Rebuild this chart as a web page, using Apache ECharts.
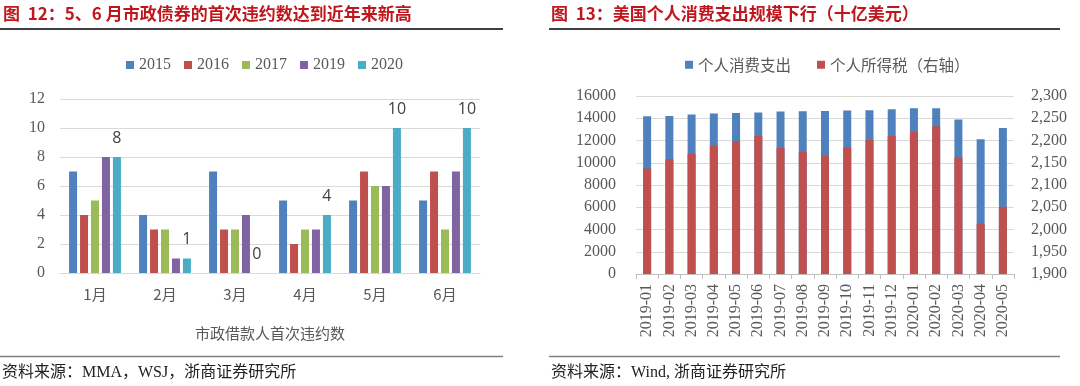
<!DOCTYPE html>
<html><head><meta charset="utf-8">
<script src="https://cdn.jsdelivr.net/npm/echarts@6/dist/echarts.min.js"></script>
<style>html,body{margin:0;padding:0;background:#fff}#c{width:1080px;height:386px}</style>
</head><body><div id="c"></div>
<script>
// Left chart data
const months = ['1月','2月','3月','4月','5月','6月'];
const years = ['2015','2016','2017','2019','2020'];
const d2015 = [7,4,7,5,5,5];
const d2016 = [4,3,3,2,7,7];
const d2017 = [5,3,3,3,6,3];
const d2019 = [8,1,4,3,6,7];
const d2020 = [8,1,0,4,10,10];

// Right chart data
const periods = ['2019-01','2019-02','2019-03','2019-04','2019-05','2019-06','2019-07','2019-08','2019-09','2019-10','2019-11','2019-12','2020-01','2020-02','2020-03','2020-04','2020-05'];
const pce = [14180,14200,14330,14420,14480,14510,14600,14630,14660,14690,14720,14810,14900,14900,13880,12120,13130];
const tax = [2137,2158,2170,2188,2199,2210,2183,2174,2165,2184,2201,2210,2219,2232,2162,2013,2051];

const colors5 = ['#4F81BD','#C0504D','#9BBB59','#8064A2','#4BACC6'];
const serif = '"Liberation Serif", "Noto Sans CJK SC", serif';
const cjk = '"Noto Sans CJK SC", sans-serif';
const grey = '#595959';
const yearData = [d2015,d2016,d2017,d2019,d2020];

const chart = echarts.init(document.getElementById('c'), null, {renderer:'canvas'});

const leftSeries = years.map((y,i)=>({
  name: y, type:'bar', xAxisIndex:0, yAxisIndex:0,
  data: yearData[i], barWidth:8, barGap:'37%',
  itemStyle:{color:colors5[i]},
  label: i===4 ? {show:true, position:'top', distance:11, color:'#404040', fontSize:16, fontFamily:'"Open Sans", sans-serif'} : {show:false}
}));

const option = {
  animation:false,
  color: colors5,
  grid:[
    {left:60, top:99, width:420, height:174},
    {left:636, top:96, width:378, height:178}
  ],
  legend:[
    {data:years, left:121, top:52, icon:'rect', itemWidth:8, itemHeight:8, itemGap:13,
     textStyle:{fontFamily:serif, fontSize:16, color:grey}},
    {data:['个人消费支出','个人所得税（右轴）'], left:680, top:52, icon:'rect', itemWidth:8, itemHeight:8, itemGap:26,
     textStyle:{fontFamily:cjk, fontSize:15.5, color:grey}}
  ],
  xAxis:[
    {type:'category', gridIndex:0, data:months,
     axisLine:{show:true, lineStyle:{color:'#d9d9d9'}}, axisTick:{show:false},
     axisLabel:{fontFamily:cjk, fontSize:15, color:grey, margin:14}},
    {type:'category', gridIndex:1, data:periods,
     axisLine:{show:true, lineStyle:{color:'#bfbfbf'}},
     axisTick:{show:true, length:5, lineStyle:{color:'#bfbfbf'}},
     axisLabel:{rotate:90, fontFamily:serif, fontSize:16, color:grey, margin:10}}
  ],
  yAxis:[
    {type:'value', gridIndex:0, min:0, max:12, interval:2,
     axisLine:{show:false}, axisTick:{show:false},
     axisLabel:{fontFamily:serif, fontSize:16, color:grey, margin:15},
     splitLine:{lineStyle:{color:'#d9d9d9'}}},
    {type:'value', gridIndex:1, min:0, max:16000, interval:2000,
     axisLine:{show:false}, axisTick:{show:false},
     axisLabel:{fontFamily:serif, fontSize:16, color:grey, margin:20, formatter:v=>String(v)},
     splitLine:{lineStyle:{color:'#d9d9d9'}}},
    {type:'value', gridIndex:1, position:'right', min:1900, max:2300, interval:50,
     axisLine:{show:false}, axisTick:{show:false},
     axisLabel:{fontFamily:serif, fontSize:16, color:grey, margin:17,
       formatter:v=>v.toLocaleString('en-US')},
     splitLine:{show:false}}
  ],
  series:[
    ...leftSeries,
    {name:'个人消费支出', type:'bar', xAxisIndex:1, yAxisIndex:1, data:pce, barWidth:8, barGap:'-100%',
     itemStyle:{color:'#4F81BD'}},
    {name:'个人所得税（右轴）', type:'bar', xAxisIndex:1, yAxisIndex:2, data:tax, barWidth:8, barGap:'-100%',
     itemStyle:{color:'#C0504D'}}
  ],
  graphic:[
    {type:'text', left:3, top:5, style:{text:'图  12：5、6 月市政债券的首次违约数达到近年来新高', fontFamily:cjk, fontWeight:'bold', fontSize:17, fill:'#c0161d'}},
    {type:'line', shape:{x1:0,y1:29,x2:503,y2:29}, style:{stroke:'#404040', lineWidth:2}},
    {type:'text', x:270, y:333, style:{text:'市政借款人首次违约数', fontFamily:cjk, fontSize:15, fill:grey, align:'center', verticalAlign:'middle'}},
    {type:'line', shape:{x1:0,y1:356.5,x2:503,y2:356.5}, style:{stroke:'#808080', lineWidth:1.5}},
    {type:'text', left:2, top:365, style:{text:'资料来源：MMA，WSJ，浙商证券研究所', fontFamily:serif, fontSize:16, fill:'#222'}},

    {type:'text', left:551, top:5, style:{text:'图  13：美国个人消费支出规模下行（十亿美元）', fontFamily:cjk, fontWeight:'bold', fontSize:17, fill:'#c0161d'}},
    {type:'line', shape:{x1:549,y1:29,x2:1060,y2:29}, style:{stroke:'#404040', lineWidth:2}},
    {type:'line', shape:{x1:549,y1:356.5,x2:1060,y2:356.5}, style:{stroke:'#808080', lineWidth:1.5}},
    {type:'text', left:551, top:365, style:{text:'资料来源：Wind, 浙商证券研究所', fontFamily:serif, fontSize:16, fill:'#222'}}
  ]
};
chart.setOption(option);
</script></body></html>
